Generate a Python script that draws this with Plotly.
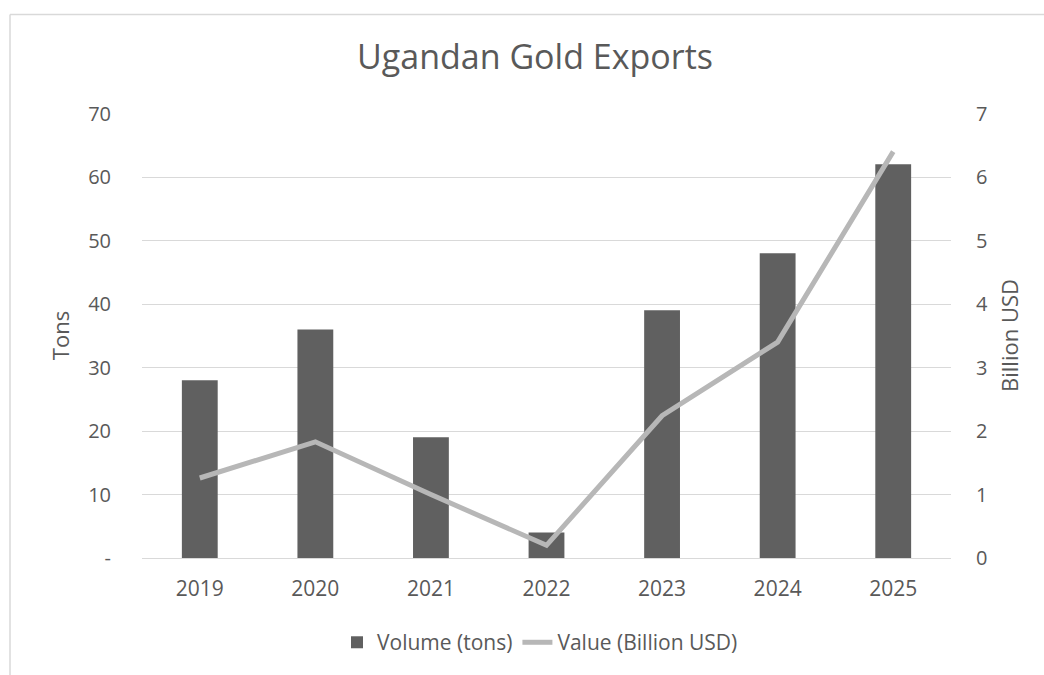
import plotly.graph_objects as go

years = ["2019", "2020", "2021", "2022", "2023", "2024", "2025"]
volume_tons = [28, 36, 19, 4, 39, 48, 62]
value_busd = [1.26, 1.83, 1.0, 0.2, 2.24, 3.4, 6.4]

left_ticks = [0, 10, 20, 30, 40, 50, 60, 70]
left_ticktext = ["-", "10", "20", "30", "40", "50", "60", "70"]
right_ticks = [0, 1, 2, 3, 4, 5, 6, 7]

TXT = "#595959"
GRID = "#d9d9d9"
FONT = "Open Sans"

fig = go.Figure()
fig.add_trace(go.Bar(
    x=years, y=volume_tons, name="Volume (tons)",
    marker=dict(color="#606060", line=dict(width=0)),
    yaxis="y",
))
fig.add_trace(go.Scatter(
    x=years, y=value_busd, name="Value (Billion USD)", mode="lines",
    line=dict(color="#b7b7b7", width=5),
    yaxis="y2",
))

W, H = 1044, 675
ml, mr, mt, mb = 142, 93, 113, 115
pw, ph = W - ml - mr, H - mt - mb

fig.update_layout(
    width=W, height=H,
    margin=dict(l=ml, r=mr, t=mt, b=mb),
    paper_bgcolor="white", plot_bgcolor="white",
    font=dict(family=FONT, color=TXT, size=20),
    title=dict(text="Ugandan Gold Exports", x=535 / W, xanchor="center",
               y=1 - 57 / H, yanchor="middle",
               font=dict(size=34, color=TXT, family=FONT)),
    bargap=0.69,
    showlegend=True,
    legend=dict(orientation="h", x=(540 - ml) / pw, xanchor="center", y=-(645 - 560) / ph,
                yanchor="middle", font=dict(size=21, color=TXT),
                traceorder="normal"),
    xaxis=dict(showgrid=False, showline=False, ticks="",
               tickfont=dict(size=21, color=TXT), ticklabelstandoff=16),
    yaxis=dict(range=[0, 70.08], tickvals=left_ticks, ticktext=left_ticktext,
               showgrid=True, gridcolor=GRID, gridwidth=1.3,
               zeroline=True, zerolinecolor=GRID, zerolinewidth=1.3,
               showline=False, ticks="",
               tickfont=dict(size=20, color=TXT), ticklabelstandoff=30,
               title=dict(text="Tons", font=dict(size=22, color=TXT), standoff=12)),
    yaxis2=dict(range=[0, 7.008], tickvals=right_ticks, overlaying="y", side="right",
                showgrid=False, zeroline=False, showline=False, ticks="",
                tickfont=dict(size=20, color=TXT), ticklabelstandoff=24,
                title=dict(text="Billion USD", font=dict(size=22, color=TXT), standoff=15)),
)

# chart border (top and left edges visible)
x_left = (10 - ml) / pw
y_top = (H - mb - 14) / ph
fig.add_shape(type="line", xref="paper", yref="paper",
              x0=x_left, x1=(W - ml) / pw + 0.05, y0=y_top, y1=y_top,
              line=dict(color=GRID, width=1.5))
fig.add_shape(type="line", xref="paper", yref="paper",
              x0=x_left, x1=x_left, y0=y_top, y1=-mb / ph - 0.05,
              line=dict(color=GRID, width=1.5))

fig.write_html("out.html", config={"displayModeBar": False},
               post_script="document.body.style.margin='0';document.body.style.overflow='hidden';")
